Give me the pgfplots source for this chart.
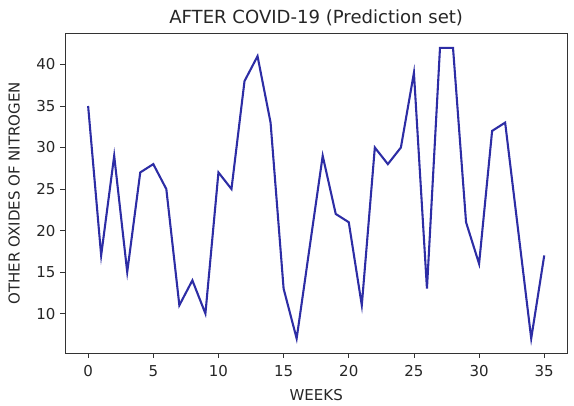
\documentclass[border=0pt]{standalone}
\usepackage{pgfplots}
\pgfplotsset{compat=1.18}
\usepackage{fontspec}
\setmainfont{DejaVu Sans}
\usetikzlibrary{calc}
\definecolor{lineblue}{RGB}{45,45,165}
\begin{document}
\begin{tikzpicture}
\begin{axis}[
  scale only axis,
  width=361pt,
  height=230pt,
  xmin=-1.75, xmax=36.75,
  ymin=5.25, ymax=43.75,
  xtick={0,5,...,35},
  ytick={10,15,...,40},
  tick align=outside,
  tick pos=left,
  major tick length=3.5pt,
  axis line style={black!80, line width=0.6pt},
  every tick/.style={black!80, line width=0.6pt},
  tick label style={font=\fontsize{10.8}{12}\selectfont, text=black!85},
  xticklabel style={yshift=-2pt},
  label style={font=\fontsize{10.8}{12}\selectfont, text=black!85},
  title style={font=\fontsize{13}{15}\selectfont, text=black!85, yshift=-4pt},
  /pgf/number format/assume math mode=true,
  title={AFTER COVID-19 (Prediction set)},
  xlabel={WEEKS},
  ylabel={OTHER OXIDES OF NITROGEN},
  xlabel style={yshift=-2pt},
  ylabel style={yshift=5pt},
]
% weekly values
\addplot[lineblue, line width=1.5pt, no markers] coordinates {
  (0,35) (1,17) (2,29) (3,15) (4,27) (5,28) (6,25) (7,11) (8,14) (9,10)
  (10,27) (11,25) (12,38) (13,41) (14,33) (15,13) (16,7) (17,18) (18,29) (19,22)
  (20,21) (21,11) (22,30) (23,28) (24,30) (25,39) (26,13) (27,42) (28,42) (29,21)
  (30,16) (31,32) (32,33) (33,20) (34,7) (35,17)
};
\end{axis}
\path[use as bounding box] ($(current axis.south west)+(-47pt,-34pt)$) rectangle ($(current axis.north east)+(5pt,24pt)$);
\end{tikzpicture}
\end{document}
